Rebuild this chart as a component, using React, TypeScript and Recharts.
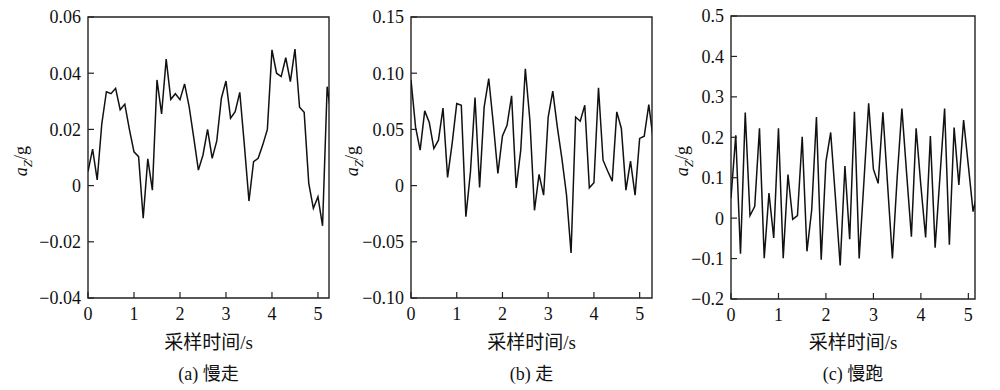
import { LineChart, Line, XAxis, YAxis, ReferenceArea } from "recharts";

// sample times (s), 0.1 s step
const TIME = [
  0, 0.1, 0.2, 0.3, 0.4, 0.5, 0.6, 0.7, 0.8, 0.9,
  1.0, 1.1, 1.2, 1.3, 1.4, 1.5, 1.6, 1.7, 1.8, 1.9,
  2.0, 2.1, 2.2, 2.3, 2.4, 2.5, 2.6, 2.7, 2.8, 2.9,
  3.0, 3.1, 3.2, 3.3, 3.4, 3.5, 3.6, 3.7, 3.8, 3.9,
  4.0, 4.1, 4.2, 4.3, 4.4, 4.5, 4.6, 4.7, 4.8, 4.9,
  5.0, 5.1, 5.2, 5.3,
];

// (a) 慢走
const SLOW_WALK = [
  0.005, 0.013, 0.002, 0.022, 0.0334, 0.0327, 0.0346, 0.027, 0.029, 0.02,
  0.012, 0.0103, -0.0116, 0.0095, -0.0016, 0.0376, 0.0255, 0.045, 0.0307, 0.0327,
  0.0306, 0.0362, 0.028, 0.017, 0.0055, 0.0109, 0.02, 0.0097, 0.0159, 0.0311,
  0.0372, 0.024, 0.0263, 0.0332, 0.0144, -0.0055, 0.0085, 0.0097, 0.0145, 0.02,
  0.0483, 0.04, 0.0388, 0.0455, 0.037, 0.0486, 0.0279, 0.0261, 0.0008, -0.0081,
  -0.004, -0.0143, 0.0352, 0.0235,
];

// (b) 走
const WALK = [
  0.094, 0.052, 0.0315, 0.0665, 0.0561, 0.033, 0.0404, 0.069, 0.0073, 0.0375,
  0.073, 0.0715, -0.0277, 0.0122, 0.0784, -0.0016, 0.07, 0.0952, 0.055, 0.0108,
  0.0442, 0.0537, 0.0798, -0.002, 0.0315, 0.104, 0.058, -0.022, 0.01, -0.0085,
  0.061, 0.084, 0.052, 0.024, -0.008, -0.06, 0.061, 0.0573, 0.0715, -0.002,
  0.0025, 0.087, 0.0226, 0.013, 0.004, 0.0656, 0.0508, -0.004, 0.0218, -0.0085,
  0.042, 0.044, 0.072, 0.04,
];

// (c) 慢跑
const SLOW_RUN = [
  0.05, 0.205, -0.088, 0.261, 0.006, 0.029, 0.222, -0.099, 0.062, -0.049,
  0.222, -0.099, 0.108, -0.003, 0.006, 0.201, -0.082, 0.02, 0.25, -0.103,
  0.14, 0.212, 0.05, -0.117, 0.129, -0.052, 0.263, -0.1, 0.09, 0.284,
  0.121, 0.086, 0.262, 0.08, -0.1, 0.1, 0.271, 0.11, -0.046, 0.222,
  0.08, -0.048, 0.203, -0.073, 0.1, 0.271, -0.066, 0.224, 0.082, 0.2425,
  0.13, 0.016, 0.07,
];

const X_TICKS = [0, 1, 2, 3, 4, 5];
const TICKS_A = [-0.04, -0.02, 0, 0.02, 0.04, 0.06];
const TICKS_B = [-0.1, -0.05, 0, 0.05, 0.1, 0.15];
const TICKS_C = [-0.2, -0.1, 0, 0.1, 0.2, 0.3, 0.4, 0.5];

const SERIF = '"Liberation Serif", "Times New Roman", "Noto Sans CJK SC", serif';
const INK = "#111";

interface PanelProps {
  left: number;
  width: number;
  plotLeft: number;
  plotRight: number;
  plotTop: number;
  plotBottom: number;
  values: number[];
  yTicks: number[];
  digits: number;
  xMax: number;
  caption: string;
  yLabelX: number;
}

const fmt = (digits: number) => (v: number) =>
  v === 0 ? "0" : (v < 0 ? "\u2212" : "") + Math.abs(v).toFixed(digits);

function Panel({
  left,
  width,
  plotLeft,
  plotRight,
  plotTop,
  plotBottom,
  values,
  yTicks,
  digits,
  xMax,
  caption,
  yLabelX,
}: PanelProps) {
  const data = values.map((v, i) => ({ t: TIME[i], v }));
  const yMin = yTicks[0];
  const yMax = yTicks[yTicks.length - 1];
  const cx = (plotLeft + plotRight) / 2;
  const tickStyle = { fill: INK, fontSize: 18, fontFamily: SERIF };

  return (
    <div style={{ position: "absolute", left, top: 0, width, height: 390 }}>
      <LineChart
        width={width}
        height={390}
        data={data}
        margin={{
          top: plotTop,
          right: width - plotRight,
          bottom: 390 - plotBottom - 40,
          left: plotLeft - 50,
        }}
      >
        <XAxis
          type="number"
          dataKey="t"
          domain={[0, xMax]}
          ticks={X_TICKS}
          interval={0}
          allowDataOverflow
          height={40}
          axisLine={false}
          tickSize={-6}
          tickMargin={15}
          tickLine={{ stroke: "#222", strokeWidth: 1.2 }}
          tick={tickStyle}
        />
        <YAxis
          type="number"
          domain={[yMin, yMax]}
          ticks={yTicks}
          interval={0}
          allowDataOverflow
          width={50}
          axisLine={false}
          tickSize={-6}
          tickMargin={13}
          tickLine={{ stroke: "#222", strokeWidth: 1.2 }}
          tick={tickStyle}
          tickFormatter={fmt(digits)}
        />
        <ReferenceArea
          x1={0}
          x2={xMax}
          y1={yMin}
          y2={yMax}
          fill="none"
          stroke="#222"
          strokeWidth={1.4}
        />
        <Line
          type="linear"
          dataKey="v"
          stroke={INK}
          strokeWidth={1.5}
          dot={false}
          isAnimationActive={false}
        />
      </LineChart>
      <div
        style={{
          position: "absolute",
          left: yLabelX,
          top: 161,
          transform: "translate(-50%, -50%) rotate(-90deg)",
          fontFamily: SERIF,
          fontSize: 18,
          color: INK,
          whiteSpace: "nowrap",
          lineHeight: 1,
        }}
      >
        <i>a</i>
        <sub style={{ fontSize: 13 }}>
          <i>Z</i>
        </sub>
        /g
      </div>
      <div
        style={{
          position: "absolute",
          left: cx,
          top: 342,
          transform: "translate(-50%, -50%)",
          fontFamily: SERIF,
          fontSize: 19,
          color: INK,
          whiteSpace: "nowrap",
          lineHeight: 1,
        }}
      >
        采样时间/s
      </div>
      <div
        style={{
          position: "absolute",
          left: cx,
          top: 374,
          transform: "translate(-50%, -50%)",
          fontFamily: SERIF,
          fontSize: 18,
          color: INK,
          whiteSpace: "nowrap",
          lineHeight: 1,
        }}
      >
        {caption}
      </div>
    </div>
  );
}

export default function App() {
  return (
    <div
      style={{
        position: "absolute",
        left: 0,
        top: 0,
        width: 1000,
        height: 390,
        background: "#fff",
        overflow: "hidden",
      }}
    >
      <Panel
        left={0}
        width={340}
        plotLeft={88}
        plotRight={329}
        plotTop={17}
        plotBottom={298}
        values={SLOW_WALK}
        yTicks={TICKS_A}
        digits={2}
        xMax={5.24}
        caption="(a) 慢走"
        yLabelX={23}
      />
      <Panel
        left={340}
        width={320}
        plotLeft={71}
        plotRight={312}
        plotTop={17}
        plotBottom={298}
        values={WALK}
        yTicks={TICKS_B}
        digits={2}
        xMax={5.27}
        caption="(b) 走"
        yLabelX={14}
      />
      <Panel
        left={660}
        width={340}
        plotLeft={71}
        plotRight={315}
        plotTop={16}
        plotBottom={299}
        values={SLOW_RUN}
        yTicks={TICKS_C}
        digits={1}
        xMax={5.14}
        caption="(c) 慢跑"
        yLabelX={24}
      />
    </div>
  );
}
